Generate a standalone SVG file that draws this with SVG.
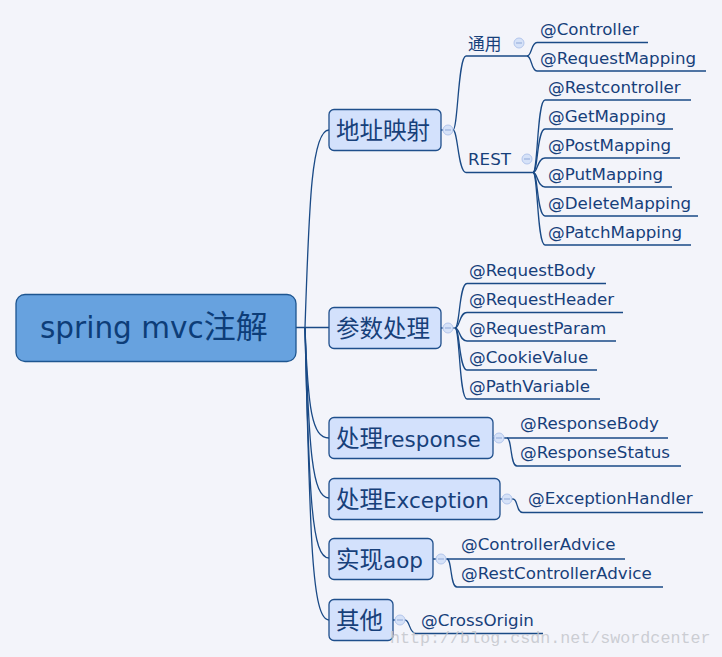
<svg xmlns="http://www.w3.org/2000/svg" width="722" height="657" viewBox="0 0 722 657">
<style>
.bg{fill:#f3f4fa}
.root{fill:#67a2df;stroke:#1d5590;stroke-width:1.3}
.main{fill:#d3e1fc;stroke:#1f4f8c;stroke-width:1.3}
.ln{fill:none;stroke:#1a4a86;stroke-width:1.3}
.ic{fill:#d6e2f8;stroke:#b3c6ec;stroke-width:1}
.icm{stroke:#8fa8d8;stroke-width:1}
.t{font-family:"DejaVu Sans",Verdana,sans-serif;fill:#17407a}
.cj{font-family:"Noto Sans CJK SC","DejaVu Sans",sans-serif}
.l1{font-size:21.5px}
.l1c{font-size:23.5px}
.l2{font-size:16.7px}
.wm{font-family:"Liberation Mono",monospace;font-size:16.7px;fill:#c4c6cc;fill-opacity:0.85}
</style>
<defs>
<g id="icon"><circle class="ic" r="5"/><line class="icm" x1="-3" y1="0" x2="3" y2="0"/></g>
</defs>
<rect class="bg" x="0" y="0" width="722" height="657"/>
<g id="connectors">
<path class="ln" d="M296,327.5 L329,327.5"/>
<path class="ln" d="M305,327.5 C309,210 311,130 329,130"/>
<path class="ln" d="M305,327.5 C308,410 312,438 329,438"/>
<path class="ln" d="M305,327.5 C309,450 312,498 329,498"/>
<path class="ln" d="M305,327.5 C309,500 312,558 329,558"/>
<path class="ln" d="M305,327.5 C310,540 312,620 329,620"/>
<path class="ln" d="M441,130 L453,130"/>
<path class="ln" d="M453,130 C458,130 458,56 466,56 L527,56"/>
<path class="ln" d="M453,130 C458,130 458,172.5 466,172.5 L533,172.5"/>
<path class="ln" d="M527,56 C532,56 531,42.5 537,42.5 L648,42.5"/>
<path class="ln" d="M527,56 C532,56 531,71 537,71 L706,71"/>
<path class="ln" d="M533,172.5 C538,172.5 537,100 545,100 L691,100"/>
<path class="ln" d="M533,172.5 C538,172.5 537,129 545,129 L673,129"/>
<path class="ln" d="M533,172.5 C538,172.5 537,158 545,158 L680,158"/>
<path class="ln" d="M533,172.5 C538,172.5 537,187 545,187 L672,187"/>
<path class="ln" d="M533,172.5 C538,172.5 537,216 545,216 L698,216"/>
<path class="ln" d="M533,172.5 C538,172.5 537,245 545,245 L691,245"/>
<path class="ln" d="M441,328 L455,328"/>
<path class="ln" d="M455,328 C460,328 459,283.5 467,283.5 L606,283.5"/>
<path class="ln" d="M455,328 C460,328 459,312.5 467,312.5 L623,312.5"/>
<path class="ln" d="M455,328 C460,328 459,341 467,341 L616,341"/>
<path class="ln" d="M455,328 C460,328 459,370 467,370 L597,370"/>
<path class="ln" d="M455,328 C460,328 459,399 467,399 L600,399"/>
<path class="ln" d="M493,438 L668,438"/>
<path class="ln" d="M507,438 C512,438 510,466 517,466 L681,466"/>
<path class="ln" d="M500,499 L513,499 C518,499 516,512.5 523,512.5 L703,512.5"/>
<path class="ln" d="M433,559 L625,559"/>
<path class="ln" d="M447,559 C452,559 450,587 457,587 L663,587"/>
<path class="ln" d="M393,620 L405,620 C410,620 409,633.5 416,633.5 L543,633.5"/>
</g>
<g id="root">
<rect class="root" x="16" y="294.5" width="280" height="67" rx="9"/>
<text class="t" x="40" y="338" style="fill:#0d3d78"><tspan font-size="29.5">spring mvc</tspan><tspan class="cj" font-size="32">注解</tspan></text>
</g>
<g id="n-dizhi">
<rect class="main" x="329" y="109.5" width="112" height="41" rx="5"/>
<text class="t cj l1c" x="336" y="138.5">地址映射</text>
<use href="#icon" x="448" y="130"/>
</g>
<g id="n-tongyong">
<text class="t cj l2" x="468" y="50">通用</text>
<use href="#icon" x="519" y="43"/>
</g>
<g id="n-controller"><text class="t l2" x="540" y="35">@Controller</text></g>
<g id="n-requestmapping"><text class="t l2" x="540" y="64">@RequestMapping</text></g>
<g id="n-rest">
<text class="t l2" x="468" y="164.5">REST</text>
<use href="#icon" x="527" y="159"/>
</g>
<g id="n-restcontroller"><text class="t l2" x="548" y="92.5">@Restcontroller</text></g>
<g id="n-getmapping"><text class="t l2" x="548" y="121.5">@GetMapping</text></g>
<g id="n-postmapping"><text class="t l2" x="548" y="150.5">@PostMapping</text></g>
<g id="n-putmapping"><text class="t l2" x="548" y="179.5">@PutMapping</text></g>
<g id="n-deletemapping"><text class="t l2" x="548" y="208.5">@DeleteMapping</text></g>
<g id="n-patchmapping"><text class="t l2" x="548" y="237.5">@PatchMapping</text></g>
<g id="n-canshu">
<rect class="main" x="329" y="307.5" width="112" height="41" rx="5"/>
<text class="t cj l1c" x="336" y="336.5">参数处理</text>
<use href="#icon" x="448" y="328"/>
</g>
<g id="n-requestbody"><text class="t l2" x="469" y="276">@RequestBody</text></g>
<g id="n-requestheader"><text class="t l2" x="469" y="305">@RequestHeader</text></g>
<g id="n-requestparam"><text class="t l2" x="469" y="334">@RequestParam</text></g>
<g id="n-cookievalue"><text class="t l2" x="469" y="363">@CookieValue</text></g>
<g id="n-pathvariable"><text class="t l2" x="469" y="392">@PathVariable</text></g>
<g id="n-response">
<rect class="main" x="329" y="417.5" width="164" height="41" rx="5"/>
<text class="t" x="336" y="446.5"><tspan class="cj l1c">处理</tspan><tspan class="l1">response</tspan></text>
<use href="#icon" x="499" y="438"/>
</g>
<g id="n-responsebody"><text class="t l2" x="520" y="429">@ResponseBody</text></g>
<g id="n-responsestatus"><text class="t l2" x="520" y="458">@ResponseStatus</text></g>
<g id="n-exception">
<rect class="main" x="329" y="478.5" width="171" height="41" rx="5"/>
<text class="t" x="336" y="507.5"><tspan class="cj l1c">处理</tspan><tspan class="l1">Exception</tspan></text>
<use href="#icon" x="507" y="499"/>
</g>
<g id="n-exceptionhandler"><text class="t l2" x="528" y="504">@ExceptionHandler</text></g>
<g id="n-aop">
<rect class="main" x="329" y="538.5" width="104" height="41" rx="5"/>
<text class="t" x="336" y="567.5"><tspan class="cj l1c">实现</tspan><tspan class="l1">aop</tspan></text>
<use href="#icon" x="441" y="559"/>
</g>
<g id="n-controlleradvice"><text class="t l2" x="461" y="550">@ControllerAdvice</text></g>
<g id="n-restcontrolleradvice"><text class="t l2" x="461" y="579">@RestControllerAdvice</text></g>
<g id="n-qita">
<rect class="main" x="329" y="599.5" width="64" height="41" rx="5"/>
<text class="t cj l1c" x="336" y="628.5">其他</text>
<use href="#icon" x="400" y="620"/>
</g>
<g id="n-crossorigin"><text class="t l2" x="421" y="626">@CrossOrigin</text></g>
<text class="wm" x="390" y="643">http://blog.csdn.net/swordcenter</text>
</svg>
